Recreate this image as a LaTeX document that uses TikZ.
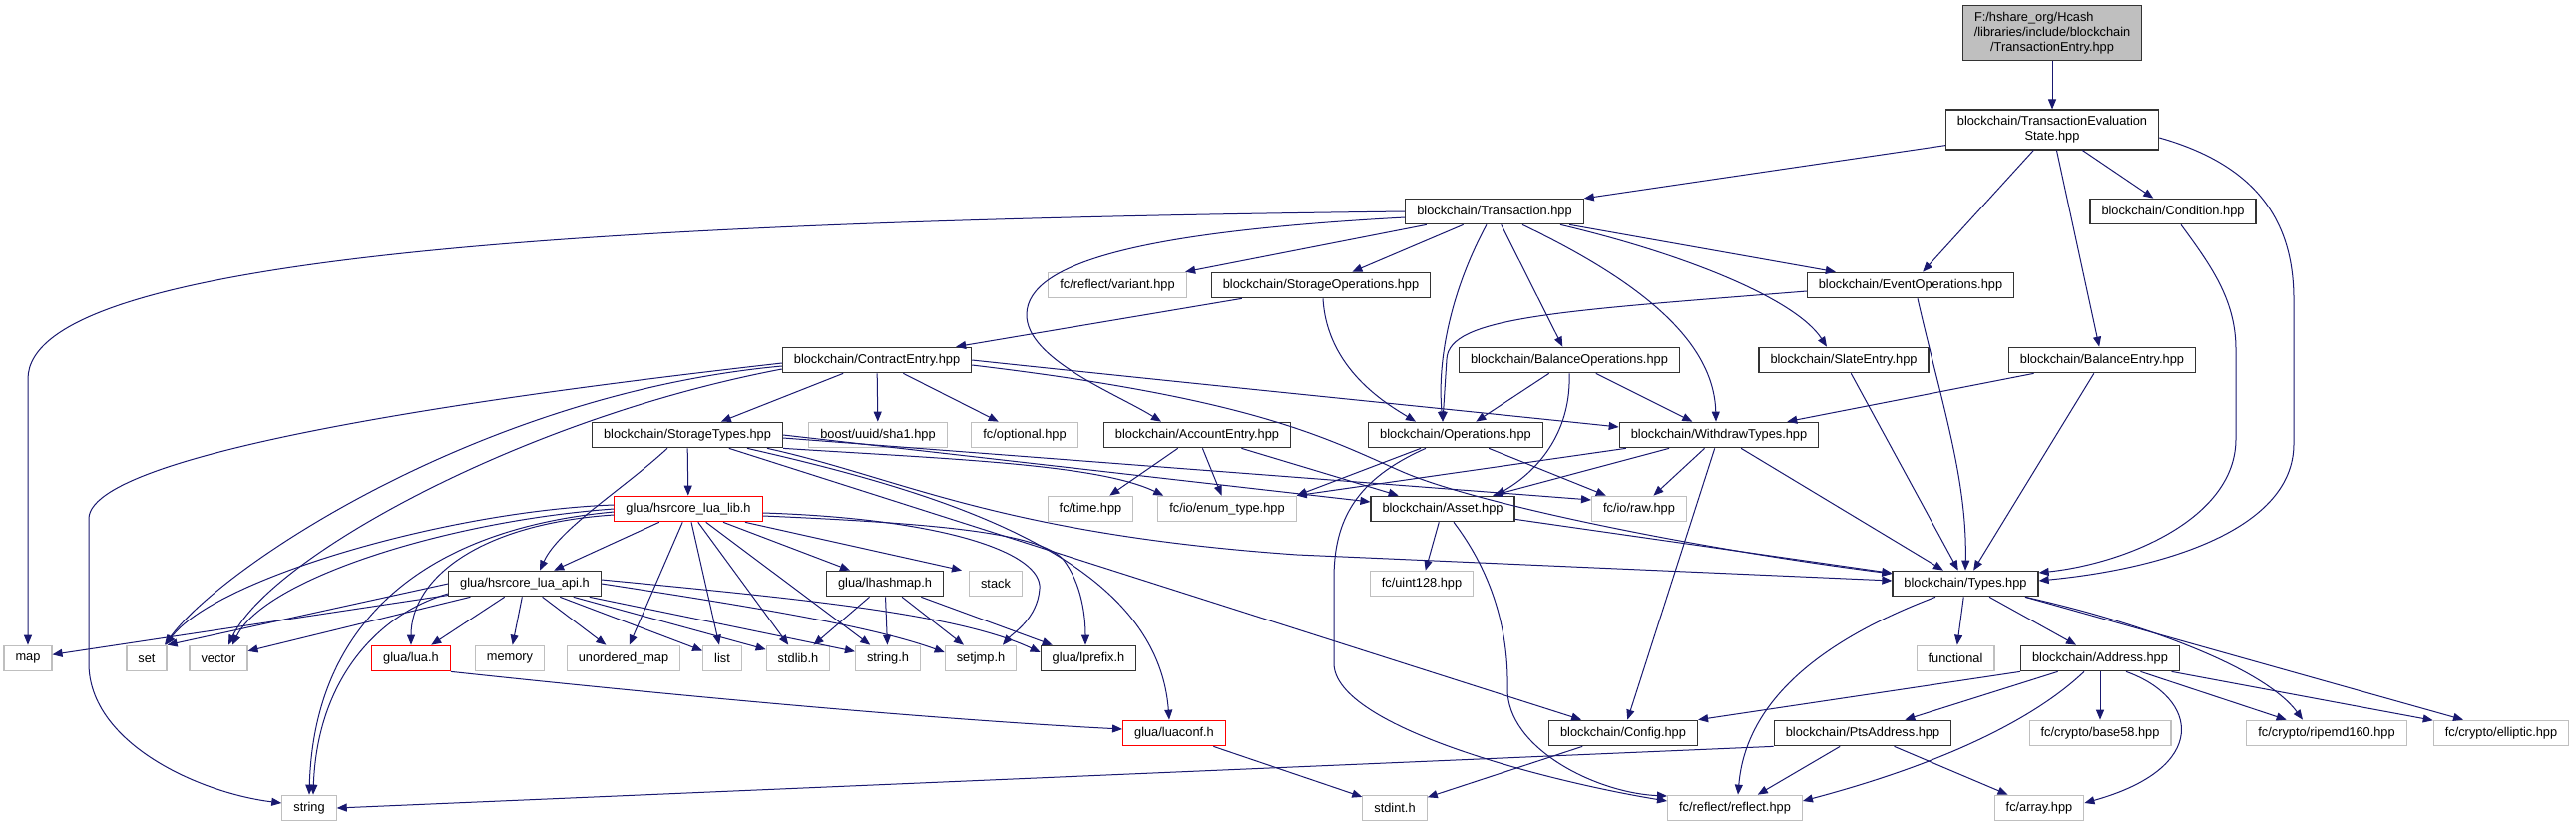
\documentclass[tikz,border=0pt]{standalone}
\usepackage{fontspec}
\setmainfont{Liberation Sans}
\usepackage{tikz}
\usetikzlibrary{arrows.meta, positioning}
\definecolor{edgeblue}{RGB}{25,25,112}
\definecolor{extgrey}{RGB}{191,191,191}
\definecolor{truncred}{RGB}{255,0,0}
\definecolor{rootfill}{RGB}{191,191,191}

\begin{document}
\begin{tikzpicture}[x=1pt, y=-1pt,
  box/.style={draw, line width=1.2pt, inner xsep=11.5pt, inner ysep=6.5pt, minimum height=25.5pt, align=center, font=\fontsize{12.8}{15}\selectfont},
  doc/.style={box, draw=black!80},
  ext/.style={box, draw=extgrey},
  trunc/.style={box, draw=truncred},
  dep/.style={draw=edgeblue, line width=1pt, -{Triangle[length=10pt, width=8pt]}}
]
  \fill[white] (0,0) rectangle (2582,828);
  \useasboundingbox (0,0) rectangle (2582,828);

  \node[doc, fill=rootfill] (root) at (2057,33) {\makebox[156pt][l]{F:/hshare\_org/Hcash}\\/libraries/include/blockchain\\/TransactionEntry.hpp};
  \node[doc] (tes) at (2057,130) {blockchain/TransactionEvaluation\\State.hpp};
  \node[doc] (trans) at (1498,212) {blockchain/Transaction.hpp};
  \node[doc] (cond) at (2178,212) {blockchain/Condition.hpp};
  \node[ext] (variant) at (1120,286) {fc/reflect/variant.hpp};
  \node[doc] (stops) at (1324,286) {blockchain/StorageOperations.hpp};
  \node[doc] (evops) at (1915,286) {blockchain/EventOperations.hpp};
  \node[doc] (contract) at (879,361) {blockchain/ContractEntry.hpp};
  \node[doc] (balops) at (1573,361) {blockchain/BalanceOperations.hpp};
  \node[doc] (slate) at (1848,361) {blockchain/SlateEntry.hpp};
  \node[doc] (balent) at (2107,361) {blockchain/BalanceEntry.hpp};
  \node[doc] (stypes) at (689,436) {blockchain/StorageTypes.hpp};
  \node[ext] (sha) at (880,436) {boost/uuid/sha1.hpp};
  \node[ext] (optional) at (1027,436) {fc/optional.hpp};
  \node[doc] (acct) at (1200,436) {blockchain/AccountEntry.hpp};
  \node[doc] (ops) at (1459,436) {blockchain/Operations.hpp};
  \node[doc] (withdraw) at (1723,436) {blockchain/WithdrawTypes.hpp};
  \node[trunc] (lualib) at (690,510) {glua/hsrcore\_lua\_lib.h};
  \node[ext] (time) at (1093,510) {fc/time.hpp};
  \node[ext] (enumt) at (1230,510) {fc/io/enum\_type.hpp};
  \node[doc] (asset) at (1446,510) {blockchain/Asset.hpp};
  \node[ext] (raw) at (1643,510) {fc/io/raw.hpp};
  \node[doc] (luaapi) at (526,585) {glua/hsrcore\_lua\_api.h};
  \node[doc] (lhash) at (887,585) {glua/lhashmap.h};
  \node[ext] (stack) at (998,585) {stack};
  \node[ext] (uint) at (1425,585) {fc/uint128.hpp};
  \node[doc] (types) at (1970,585) {blockchain/Types.hpp};
  \node[ext] (map) at (28,660) {map};
  \node[ext] (set) at (147,660) {set};
  \node[ext] (vector) at (219,660) {vector};
  \node[trunc] (luah) at (412,660) {glua/lua.h};
  \node[ext] (memory) at (511,660) {memory};
  \node[ext] (umap) at (625,660) {unordered\_map};
  \node[ext] (list) at (724,660) {list};
  \node[ext] (stdlib) at (800,660) {stdlib.h};
  \node[ext] (strh) at (890,660) {string.h};
  \node[ext] (setjmp) at (983,660) {setjmp.h};
  \node[doc] (lprefix) at (1091,660) {glua/lprefix.h};
  \node[ext] (func) at (1960,660) {functional};
  \node[doc] (addr) at (2105,660) {blockchain/Address.hpp};
  \node[trunc] (luaconf) at (1177,735) {glua/luaconf.h};
  \node[doc] (config) at (1627,735) {blockchain/Config.hpp};
  \node[doc] (pts) at (1867,735) {blockchain/PtsAddress.hpp};
  \node[ext] (base) at (2105,735) {fc/crypto/base58.hpp};
  \node[ext] (ripemd) at (2332,735) {fc/crypto/ripemd160.hpp};
  \node[ext] (ellip) at (2507,735) {fc/crypto/elliptic.hpp};
  \node[ext] (string) at (310,810) {string};
  \node[ext] (stdint) at (1398,810) {stdint.h};
  \node[ext] (reflect) at (1739,810) {fc/reflect/reflect.hpp};
  \node[ext] (array) at (2044,810) {fc/array.hpp};

  \draw[dep] (root) -- (tes);
  \draw[dep] (tes) -- (trans);
  \draw[dep] (tes) -- (evops);
  \draw[dep] (tes) -- (cond);
  \draw[dep] (tes) -- (balent);
  \draw[dep] ([yshift=-8pt]tes.east) .. controls (2260,165) and (2299,220) .. (2299,300) -- (2299,445) .. controls (2299,530) and (2170,570) .. ([yshift=3pt]types.east);
  \draw[dep] ([xshift=8pt]cond.south) .. controls (2215,265) and (2241,300) .. (2241,350) -- (2241,440) .. controls (2241,520) and (2130,565) .. ([yshift=11pt]types.east);

  \draw[dep] (trans.west) .. controls (600,222) and (28,255) .. (28,380) -- (map.north);
  \draw[dep] ([yshift=-6pt]trans.west) .. controls (1150,232) and (1030,262) .. (1029,315) .. controls (1028,360) and (1120,395) .. ([xshift=-36pt]acct.north);
  \draw[dep] (trans) -- (variant);
  \draw[dep] (trans) -- (stops);
  \draw[dep] ([xshift=-8pt]trans.south) .. controls (1455,290) and (1440,360) .. ([xshift=-13pt]ops.north);
  \draw[dep] (trans) -- (balops);
  \draw[dep] ([xshift=28pt]trans.south) .. controls (1640,280) and (1718,340) .. ([xshift=-3pt]withdraw.north);
  \draw[dep] ([xshift=66pt]trans.south) .. controls (1690,255) and (1800,300) .. ([xshift=-17pt]slate.north);
  \draw[dep] (trans) -- (evops);

  \draw[dep] (stops) -- (contract);
  \draw[dep] ([xshift=2pt]stops.south) .. controls (1330,370) and (1390,405) .. ([xshift=-40pt]ops.north);
  \draw[dep] ([yshift=-6pt]evops.west) .. controls (1560,312) and (1452,318) .. (1450,360) -- ([xshift=-13pt]ops.north);
  \draw[dep] ([xshift=7pt]evops.south) .. controls (1945,400) and (1972,480) .. (types.north);

  \draw[dep] (contract) -- (stypes);
  \draw[dep] (contract) -- (sha);
  \draw[dep] (contract) -- (optional);
  \draw[dep] ([yshift=-6pt]contract.west) .. controls (480,395) and (220,570) .. ([xshift=18pt]set.north);
  \draw[dep] ([yshift=-9pt]contract.west) .. controls (520,420) and (270,560) .. ([xshift=10pt]vector.north);
  \draw[dep] ([yshift=-3pt]contract.west) .. controls (600,385) and (89,445) .. (89,520) -- (89,665) .. controls (89,745) and (200,795) .. ([yshift=5pt]string.west);
  \draw[dep] (contract.east) .. controls (1200,385) and (1450,410) .. ([yshift=8pt]withdraw.west);
  \draw[dep] ([yshift=-5pt]contract.east) .. controls (1260,400) and (1330,440) .. (1406,473) .. controls (1480,505) and (1700,550) .. ([yshift=10pt]types.west);

  \draw[dep] (stypes) -- (lualib);
  \draw[dep] ([xshift=-20pt]stypes.south) .. controls (625,490) and (560,530) .. ([xshift=15pt]luaapi.north);
  \draw[dep] (stypes) -- (config);
  \draw[dep] ([xshift=60pt]stypes.south) .. controls (950,495) and (1160,560) .. ([xshift=-5pt]luaconf.north);
  \draw[dep] ([xshift=80pt]stypes.south) .. controls (900,478) and (1000,535) .. (1300,556) -- ([yshift=3pt]types.west);
  \draw[dep] (stypes.south east) .. controls (950,460) and (1100,465) .. ([xshift=6pt]enumt.north west);
  \draw[dep] (stypes.east) -- ([yshift=7pt]asset.west);
  \draw[dep] ([yshift=-3pt]stypes.east) -- ([yshift=9pt]raw.west);

  \draw[dep] (acct) -- (time);
  \draw[dep] (acct) -- (enumt);
  \draw[dep] (acct) -- (asset);

  \draw[dep] (balops) -- (ops);
  \draw[dep] (balops) -- (withdraw);
  \draw[dep] (balops.south) .. controls (1575,430) and (1545,470) .. ([xshift=53pt]asset.north);
  \draw[dep] (slate) -- (types);
  \draw[dep] (balent) -- (withdraw);
  \draw[dep] (balent) -- (types);

  \draw[dep] (ops) -- (enumt.north east);
  \draw[dep] (ops) -- (raw);
  \draw[dep] ([xshift=-30pt]ops.south) .. controls (1360,480) and (1337,520) .. (1337,580) -- (1337,665) .. controls (1337,730) and (1560,785) .. ([yshift=7pt]reflect.west);
  \draw[dep] (withdraw) -- (enumt.north east);
  \draw[dep] (withdraw) -- (asset);
  \draw[dep] (withdraw) -- (raw);
  \draw[dep] (withdraw) -- (types);
  \draw[dep] (withdraw) -- (config);

  \draw[dep] (asset) -- (uint);
  \draw[dep] (asset) -- (types);
  \draw[dep] ([xshift=11pt]asset.south) .. controls (1500,580) and (1512,640) .. (1511,690) .. controls (1510,750) and (1600,795) .. ([yshift=12pt]reflect.west);

  \draw[dep] (lualib) -- (luaapi);
  \draw[dep] (lualib) -- (umap);
  \draw[dep] (lualib) -- (list);
  \draw[dep] (lualib) -- (stdlib);
  \draw[dep] (lualib) -- (strh);
  \draw[dep] (lualib) -- (lhash);
  \draw[dep] ([xshift=57pt]lualib.south) -- ([xshift=-34pt]stack.north);
  \draw[dep] ([yshift=-4pt]lualib.east) .. controls (950,520) and (1045,555) .. (1042,590) .. controls (1040,620) and (1015,635) .. ([xshift=22pt]setjmp.north);
  \draw[dep] ([yshift=-7pt]lualib.east) .. controls (950,525) and (1040,535) .. (1065,560) .. controls (1085,585) and (1088,620) .. ([xshift=-3pt]lprefix.north);
  \draw[dep] ([yshift=4pt]lualib.west) .. controls (450,512) and (215,580) .. ([xshift=19pt]set.north);
  \draw[dep] (lualib.west) .. controls (450,522) and (265,580) .. ([xshift=14pt]vector.north);
  \draw[dep] ([yshift=-3pt]lualib.west) .. controls (430,530) and (315,620) .. (string.north);
  \draw[dep] ([yshift=-6pt]lualib.west) .. controls (480,525) and (412,580) .. (luah.north);

  \draw[dep] (luaapi) -- (map);
  \draw[dep] (luaapi.west) -- (set.north east);
  \draw[dep] (luaapi) -- (vector);
  \draw[dep] ([yshift=-10pt]luaapi.west) .. controls (380,615) and (318,680) .. ([xshift=4pt]string.north);
  \draw[dep] (luaapi) -- (luah);
  \draw[dep] (luaapi) -- (memory);
  \draw[dep] (luaapi) -- (umap);
  \draw[dep] (luaapi) -- (list);
  \draw[dep] (luaapi) -- (stdlib);
  \draw[dep] (luaapi) -- (strh);
  \draw[dep] (luaapi.east) .. controls (780,612) and (880,630) .. ([yshift=6pt]setjmp.west);
  \draw[dep] ([yshift=4pt]luaapi.east) .. controls (800,600) and (960,615) .. ([yshift=6pt]lprefix.west);

  \draw[dep] (lhash) -- (stdlib);
  \draw[dep] (lhash) -- (strh);
  \draw[dep] (lhash) -- (setjmp);
  \draw[dep] (lhash) -- (lprefix);
  \draw[dep] (luah.south east) .. controls (700,700) and (950,722) .. ([yshift=4pt]luaconf.west);
  \draw[dep] (luaconf) -- (stdint);
  \draw[dep] (config) -- (stdint);

  \draw[dep] ([xshift=-30pt]types.south) .. controls (1830,640) and (1750,700) .. ([xshift=3pt]reflect.north);
  \draw[dep] (types) -- (func);
  \draw[dep] (types) -- (addr);
  \draw[dep] ([xshift=60pt]types.south) .. controls (2150,625) and (2270,670) .. ([xshift=-24pt]ripemd.north);
  \draw[dep] ([xshift=60pt]types.south) -- ([xshift=-38pt]ellip.north);

  \draw[dep] (addr.south west) -- (config.north east);
  \draw[dep] (addr) -- (pts);
  \draw[dep] (addr) -- (base);
  \draw[dep] ([xshift=26pt]addr.south) .. controls (2205,700) and (2215,770) .. ([yshift=5pt]array.east);
  \draw[dep] ([xshift=-16pt]addr.south) .. controls (2040,720) and (1950,765) .. ([yshift=7pt]reflect.east);
  \draw[dep] (addr) -- (ripemd);
  \draw[dep] (addr) -- (ellip);

  \draw[dep] (pts.south west) -- (string.east);
  \draw[dep] (pts) -- (reflect);
  \draw[dep] (pts) -- (array);
\end{tikzpicture}
\end{document}
